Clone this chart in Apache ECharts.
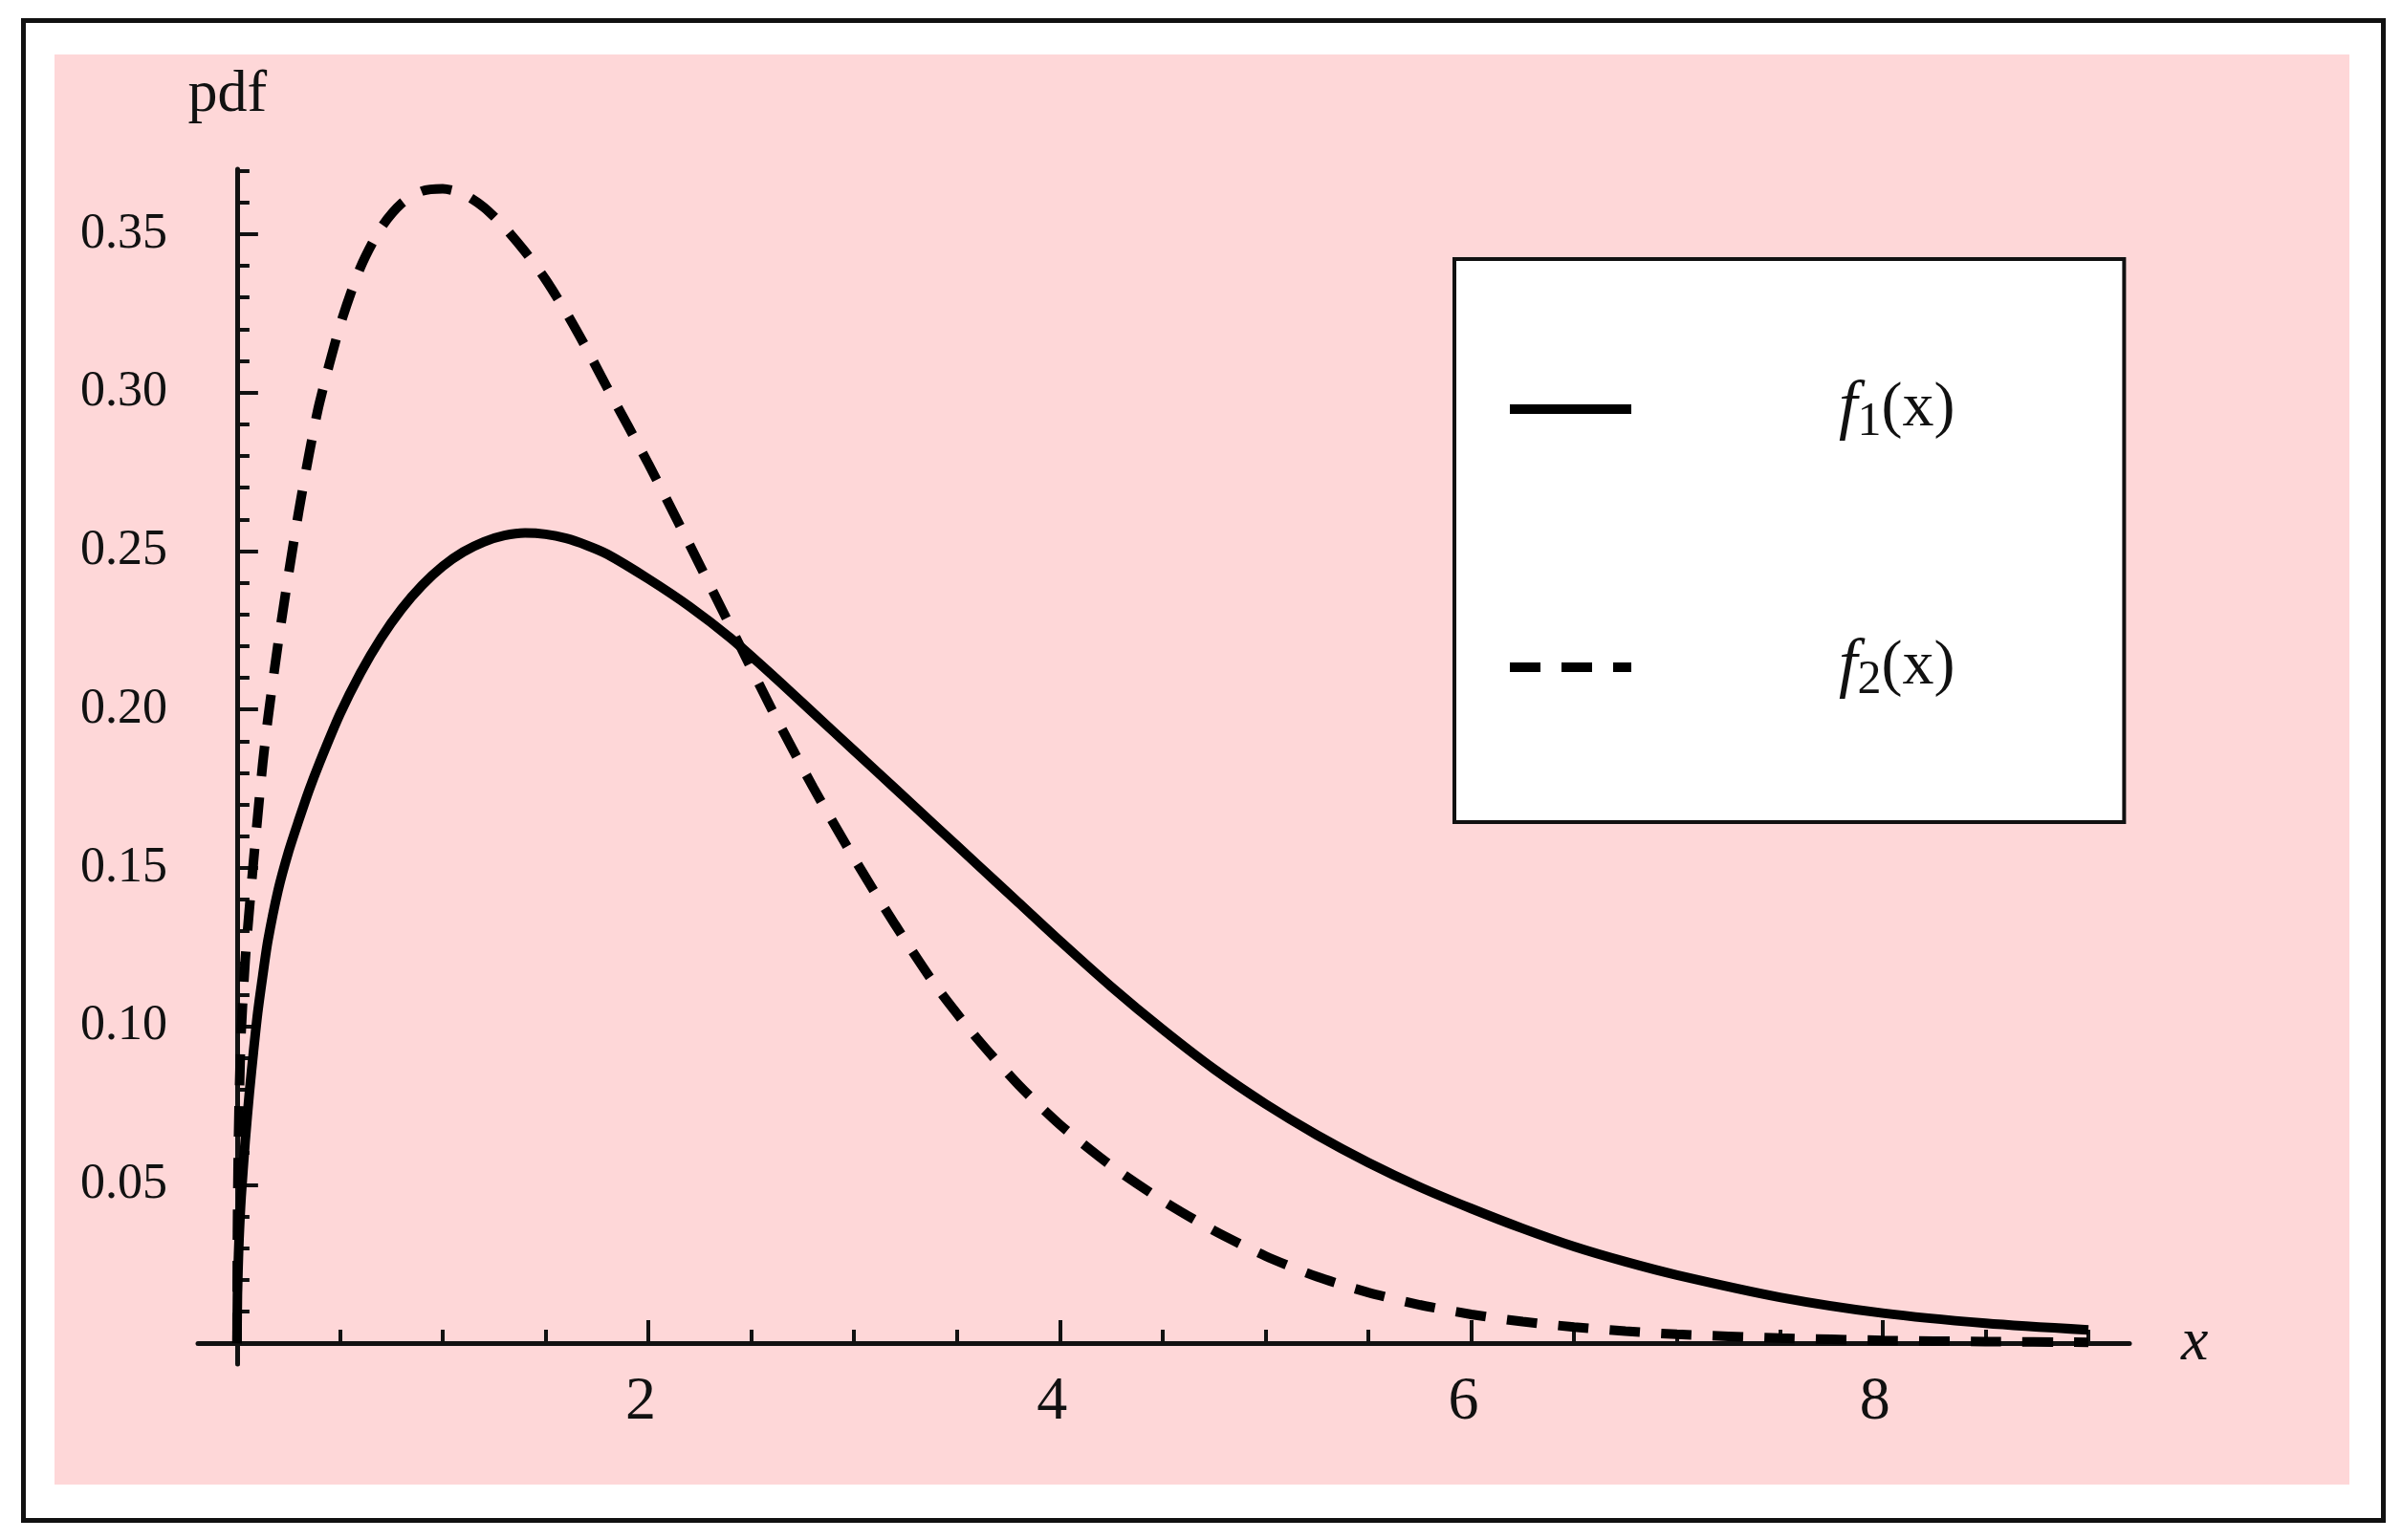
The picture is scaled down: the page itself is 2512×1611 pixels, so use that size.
<!DOCTYPE html>
<html>
<head>
<meta charset="utf-8">
<script src="https://cdn.jsdelivr.net/npm/echarts@6/dist/echarts.min.js"></script>
<style>
  html, body { margin: 0; padding: 0; background: #ffffff; }
  #frame { position: absolute; left: 22px; top: 19px; width: 2463px; height: 1564px; border: 5px solid #111; background: #ffffff; }
  #pink { position: absolute; left: 57px; top: 57px; width: 2400px; height: 1496px; background: #FED7D8; }
  #chart { position: absolute; left: 0; top: 0; width: 2512px; height: 1611px; }
</style>
</head>
<body>
<div id="frame"></div>
<div id="pink"></div>
<div id="chart"></div>
<script>
// ---- data ----
const xValues = [0, 0.002, 0.005, 0.01, 0.02, 0.04, 0.06, 0.08, 0.1, 0.125,
  0.15, 0.2, 0.25, 0.3, 0.35, 0.4, 0.5, 0.6, 0.7, 0.8,
  0.9, 1.0, 1.1, 1.2, 1.3, 1.4, 1.5, 1.6, 1.7, 1.8,
  2.0, 2.2, 2.4, 2.6, 2.8, 3.0, 3.2, 3.4, 3.6, 3.8,
  4.0, 4.25, 4.5, 4.75, 5.0, 5.25, 5.5, 5.75, 6.0, 6.25,
  6.5, 6.75, 7.0, 7.5, 8.0, 8.5, 9.0];
const f1Values = [0, 0.015, 0.023, 0.033, 0.046, 0.064, 0.079, 0.092, 0.104, 0.116,
  0.127, 0.143, 0.155, 0.165, 0.1745, 0.183, 0.1985, 0.2115, 0.2225, 0.2317,
  0.2392, 0.2452, 0.2497, 0.2529, 0.2549, 0.2557, 0.2553, 0.2540, 0.2518, 0.2490,
  0.2412, 0.2325, 0.2225, 0.2110, 0.1990, 0.1870, 0.1750, 0.1630, 0.1510, 0.1390,
  0.1270, 0.1125, 0.0990, 0.0865, 0.0755, 0.0657, 0.0570, 0.0493, 0.0425, 0.0362,
  0.0305, 0.0257, 0.0215, 0.0145, 0.0095, 0.0063, 0.0042];
const f2Values = [0, 0.035, 0.055, 0.075, 0.098, 0.121, 0.137, 0.152, 0.166, 0.183,
  0.197, 0.221, 0.2425, 0.2625, 0.2805, 0.2965, 0.321, 0.3395, 0.352, 0.3597,
  0.3636, 0.3643, 0.3627, 0.3585, 0.3522, 0.3445, 0.3357, 0.3253, 0.3138, 0.3015,
  0.2775, 0.2520, 0.2260, 0.2000, 0.1755, 0.1530, 0.1320, 0.1125, 0.0960, 0.0815,
  0.0690, 0.0560, 0.0450, 0.0355, 0.0275, 0.0210, 0.0160, 0.0121, 0.0091, 0.0068,
  0.0051, 0.0038, 0.0028, 0.0016, 0.0009, 0.0005, 0.0003];
const seriesNames = ['f1', 'f2'];
const xTickLabels = [2, 4, 6, 8];
const xMinorTicks = [0.5, 1, 1.5, 2.5, 3, 3.5, 4.5, 5, 5.5, 6.5, 7, 7.5, 8.5, 9];
const yTickLabels = [0.05, 0.10, 0.15, 0.20, 0.25, 0.30, 0.35];
const yMinorTicks = [0.01, 0.02, 0.03, 0.04, 0.06, 0.07, 0.08, 0.09, 0.11, 0.12, 0.13, 0.14,
  0.16, 0.17, 0.18, 0.19, 0.21, 0.22, 0.23, 0.24, 0.26, 0.27, 0.28, 0.29,
  0.31, 0.32, 0.33, 0.34, 0.36, 0.37];
const xName = 'x';
const yName = 'pdf';

// ---- chart ----
const serif = '"Liberation Serif", "DejaVu Serif", serif';
const ink = '#111111';
const X_MIN = -0.19, X_MAX = 9.2, Y_MIN = -0.0066, Y_MAX = 0.3705;

const chart = echarts.init(document.getElementById('chart'), null, { renderer: 'canvas', width: 2512, height: 1611 });

const pairs = (ys) => xValues.map((x, i) => [x, ys[i]]);

const option = {
  animation: false,
  backgroundColor: 'transparent',
  grid: { left: 207, right: 285, top: 177, bottom: 184, containLabel: false, outerBoundsMode: 'none' },
  xAxis: [
    {
      type: 'value', min: X_MIN, max: X_MAX, position: 'bottom',
      name: xName, nameLocation: 'end', nameGap: 54,
      nameTextStyle: { fontFamily: serif, fontStyle: 'italic', fontSize: 64, color: ink, verticalAlign: 'middle' },
      axisLine: { show: true, onZero: true, onZeroAxisIndex: 0, lineStyle: { color: ink, width: 5 } },
      axisTick: { show: true, inside: true, length: 24, customValues: xTickLabels, lineStyle: { color: ink, width: 4 } },
      axisLabel: { show: true, customValues: xTickLabels, margin: 8, fontFamily: serif, fontSize: 64, color: ink,
        padding: [0, 16, 0, 0] },
      splitLine: { show: false }
    },
    {
      type: 'value', min: X_MIN, max: X_MAX, position: 'bottom',
      axisLine: { show: false, onZero: true, onZeroAxisIndex: 0 },
      axisTick: { show: true, inside: true, length: 14, customValues: xMinorTicks, lineStyle: { color: ink, width: 4 } },
      axisLabel: { show: false },
      splitLine: { show: false }
    }
  ],
  yAxis: [
    {
      type: 'value', min: Y_MIN, max: Y_MAX, position: 'left',
      name: yName, nameLocation: 'end', nameGap: 46,
      nameTextStyle: { fontFamily: serif, fontSize: 62, color: ink, align: 'center', padding: [0, 20, 0, 0] },
      axisLine: { show: true, onZero: true, onZeroAxisIndex: 0, lineStyle: { color: ink, width: 5 } },
      axisTick: { show: true, inside: true, length: 22, customValues: yTickLabels, lineStyle: { color: ink, width: 4 } },
      axisLabel: { show: true, customValues: yTickLabels, margin: 32, fontFamily: serif, fontSize: 52, color: ink,
        formatter: (v) => v.toFixed(2) },
      splitLine: { show: false }
    },
    {
      type: 'value', min: Y_MIN, max: Y_MAX, position: 'left',
      axisLine: { show: false, onZero: true, onZeroAxisIndex: 0 },
      axisTick: { show: true, inside: true, length: 13, customValues: yMinorTicks, lineStyle: { color: ink, width: 4 } },
      axisLabel: { show: false },
      splitLine: { show: false }
    }
  ],
  legend: {
    show: true, orient: 'vertical', left: 1521, top: 271,
    padding: [122, 177, 123, 53], itemGap: 196, itemWidth: 127, itemHeight: 2,
    backgroundColor: '#ffffff', borderColor: ink, borderWidth: 4, borderRadius: 0,
    selectedMode: false,
    data: seriesNames,
    itemStyle: { opacity: 0 },
    lineStyle: { width: 10 },
    formatter: (name) => '{g|}{f|f}{s|' + name.slice(1) + '}{p|(x)}',
    textStyle: {
      color: ink, fontFamily: serif,
      rich: {
        g: { width: 212 },
        f: { fontFamily: serif, fontStyle: 'italic', fontSize: 70, color: ink },
        s: { fontFamily: serif, fontSize: 50, color: ink, padding: [28, 0, 0, 0] },
        p: { fontFamily: serif, fontSize: 66, color: ink }
      }
    }
  },
  series: [
    {
      name: seriesNames[0], type: 'line', xAxisIndex: 0, yAxisIndex: 0,
      data: pairs(f1Values), symbol: 'none', showSymbol: false,
      smooth: 0.25,
      lineStyle: { color: '#000000', width: 10, type: 'solid' },
      itemStyle: { color: '#000000' }, z: 3
    },
    {
      name: seriesNames[1], type: 'line', xAxisIndex: 0, yAxisIndex: 0,
      data: pairs(f2Values), symbol: 'none', showSymbol: false,
      smooth: 0.25,
      lineStyle: { color: '#000000', width: 10, type: [32, 22], cap: 'butt' },
      itemStyle: { color: '#000000' }, z: 3
    }
  ]
};
chart.setOption(option);
</script>
</body>
</html>
